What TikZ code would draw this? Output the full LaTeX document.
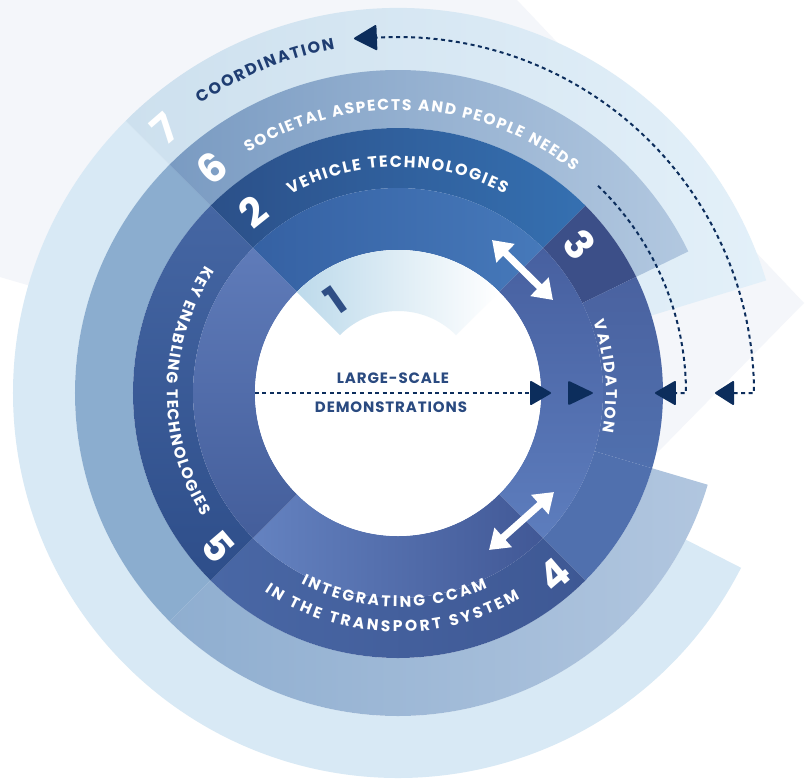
\documentclass[tikz,border=0pt]{standalone}
\usepackage{fontspec}
\setmainfont{Poppins}
\newfontfamily\spacedfont{Poppins}[LetterSpace=6]
\usetikzlibrary{decorations.text,arrows.meta}
\definecolor{bgf}{HTML}{F4F6FA}
\definecolor{r7l}{HTML}{D8E9F5}
\definecolor{r7a}{HTML}{CDE0EE}
\definecolor{r7b}{HTML}{E3F0F9}
\definecolor{r6l}{HTML}{8BADCF}
\definecolor{r6a}{HTML}{7A9BC2}
\definecolor{r6b}{HTML}{B2C8E0}
\definecolor{r6c}{HTML}{8FAED0}
\definecolor{r6d}{HTML}{B1C6DF}
\definecolor{bTa}{HTML}{2B5089}
\definecolor{bTb}{HTML}{3570B1}
\definecolor{bRt}{HTML}{3C4F88}
\definecolor{bVa}{HTML}{4A62A0}
\definecolor{bVb}{HTML}{5070AE}
\definecolor{bLR}{HTML}{5070AE}
\definecolor{bBa}{HTML}{4967A5}
\definecolor{bBb}{HTML}{3E5894}
\definecolor{bLa}{HTML}{4566A3}
\definecolor{bLb}{HTML}{2E4E8A}
\definecolor{aTa}{HTML}{3561A3}
\definecolor{aTb}{HTML}{4679BA}
\definecolor{aRa}{HTML}{4760A0}
\definecolor{aRb}{HTML}{5D7DBD}
\definecolor{aBa}{HTML}{6482C0}
\definecolor{aBb}{HTML}{415896}
\definecolor{aLa}{HTML}{5F7BB9}
\definecolor{aLb}{HTML}{445E9B}
\definecolor{rone}{HTML}{BDDAEB}
\definecolor{navy}{HTML}{0C2D5C}
\definecolor{navytxt}{HTML}{1F3D72}
\definecolor{numone}{HTML}{2F4E85}
\definecolor{demo}{HTML}{2A4A80}
\newcommand{\annsec}[4]{(#3:#2) arc[start angle=#3,end angle=#4,radius=#2] -- (#4:#1) arc[start angle=#4,end angle=#3,radius=#1] -- cycle}
\newcommand{\wtxt}{\bfseries\fontsize{16}{16}\selectfont\color{white}}
\newcommand{\wtxts}{\bfseries\fontsize{15.5}{15.5}\selectfont\color{white}}
\newcommand{\ntxt}{\bfseries\fontsize{16}{16}\selectfont\color{navytxt}}
\newcommand{\numfnt}{\fontsize{40}{40}\selectfont\bfseries}
\newcommand{\demofnt}{\spacedfont\fontsize{15}{15}\selectfont\bfseries}
\tikzset{
  numw/.style={text=white, font=\numfnt, inner sep=0pt},
  dsh/.style={draw=navy, line width=2pt, dash pattern=on 4pt off 3.5pt},
  navytip/.style={-{Triangle[length=22pt,width=25pt,round]}},
  whitearrow/.style={draw=white, line width=7pt, {Triangle[length=19pt,width=25pt]}-{Triangle[length=19pt,width=25pt]}},
  demotext/.style={font=\demofnt, text=demo, inner sep=1pt},
}
\begin{document}
\begin{tikzpicture}[x=1pt,y=1pt]
\useasboundingbox (-398,-387) rectangle (410,393);
\fill[white] (-398,-387) rectangle (410,393);
% faint background
\fill[bgf] (-398,393) -- (119,393) -- (406,90) -- (259,-60) -- (0,0) -- (-398,116) -- cycle;
% ring 7
\fill[r7l] \annsec{323}{385}{135}{333};
\shade[left color=r7a, right color=r7b] \annsec{265}{385}{17}{135};
% ring 6
\fill[r6l] \annsec{265}{323}{135}{225};
\shade[left color=r6c, right color=r6d] \annsec{265}{323}{225}{343.5};
\shade[left color=r6a, right color=r6b] \annsec{265}{323}{26}{135};
% ring B
\shade[left color=bTa, right color=bTb] \annsec{205}{265}{45}{135};
\fill[bRt] \annsec{205}{265}{26}{45};
\shade[top color=bVa, bottom color=bVb] \annsec{205}{265}{-16.5}{26};
\fill[bLR] \annsec{205}{265}{-45}{-16.5};
\shade[left color=bBa, right color=bBb] \annsec{205}{265}{225}{315};
\shade[top color=bLa, bottom color=bLb] \annsec{205}{265}{135}{225};
% ring A
\shade[left color=aTa, right color=aTb] \annsec{143}{205}{45}{135};
\shade[top color=aRa, bottom color=aRb] \annsec{143}{205}{-45}{45};
\shade[left color=aBa, right color=aBb] \annsec{143}{205}{225}{315};
\shade[top color=aLa, bottom color=aLb] \annsec{143}{205}{135}{225};
% white centre
\fill[white] (0,0) circle[radius=143];
% ring 1 band
\shade[left color=rone, right color=white] \annsec{82}{143}{45}{135};
% curved texts
\path[decorate,decoration={text along path,text align={fit to path},text={|\ntxt|COORDINATION}}]
  (124.3:350) arc[start angle=124.3,end angle=100.4,radius=350];
\path[decorate,decoration={text along path,text align={fit to path},text={|\wtxts|SOCIETAL ASPECTS AND PEOPLE NEEDS}}]
  (122:283) arc[start angle=122,end angle=51.6,radius=283];
\path[decorate,decoration={text along path,text align={fit to path},text={|\wtxt|VEHICLE TECHNOLOGIES}}]
  (118.4:226) arc[start angle=118.4,end angle=61.8,radius=226];
\path[decorate,decoration={text along path,text align={fit to path},text={|\wtxts|VALIDATION}}]
  (20:208) arc[start angle=20,end angle=-10.8,radius=208];
\path[decorate,decoration={text along path,text align={fit to path},text={|\wtxts|KEY ENABLING TECHNOLOGIES}}]
  (146.5:231) arc[start angle=146.5,end angle=212.3,radius=231];
\path[decorate,decoration={text along path,text align={fit to path},text={|\wtxts|INTEGRATING CCAM}}]
  (243:214) arc[start angle=243,end angle=294.7,radius=214];
\path[decorate,decoration={text along path,text align={fit to path},text={|\wtxts|IN THE TRANSPORT SYSTEM}}]
  (236:239) arc[start angle=236,end angle=300.7,radius=239];
% numbers
\node[numw, text=numone, rotate=35] (n1) at (-63,93) {1};
\node[numw, rotate=38.7] (n2) at (-145,181) {2};
\node[numw, rotate=-50.9] (n3) at (182,148) {3};
\node[numw, rotate=40.6] (n4) at (156,-182) {4};
\node[numw, rotate=-49.5] (n5) at (-180,-154) {5};
\node[numw, rotate=39.6] (n6) at (-186,225) {6};
\node[numw, rotate=41] (n7) at (-233,265) {7};
% centre label
\node[demotext] (ls) at (-5,15) {LARGE-SCALE};
\node[demotext] (dm) at (-7,-14) {DEMONSTRATIONS};
% coordinates
\coordinate (hL) at (-143,0);
\coordinate (hR) at (153,0);
\coordinate (innS) at (46:288);
\coordinate (innT) at (257,0);
\coordinate (outT1) at (317,0);
\coordinate (outT2) at (-44,354.5);
\coordinate (wa1) at (94,153);
\coordinate (wa2) at (155,93);
\coordinate (wb1) at (156,-99);
\coordinate (wb2) at (91,-157);
% dashed connectors
\draw[dsh, navytip] (hL) -- (hR);
\fill[navy, rounded corners=2pt] (170,12.5) -- (196,0) -- (170,-12.5) -- cycle;
\draw[dsh, navytip] (innS) arc[start angle=46,end angle=0,radius=288] -- (innT);
\draw[dsh, {Triangle[length=20pt,width=25pt,round]}-{Triangle[length=24pt,width=26pt,round]}]
  (outT1) -- (356,0) arc[start angle=0,end angle=92,radius=356] -- (outT2);
% white double arrows
\draw[whitearrow] (wa1) -- (wa2);
\draw[whitearrow] (wb1) -- (wb2);
\end{tikzpicture}
\end{document}
